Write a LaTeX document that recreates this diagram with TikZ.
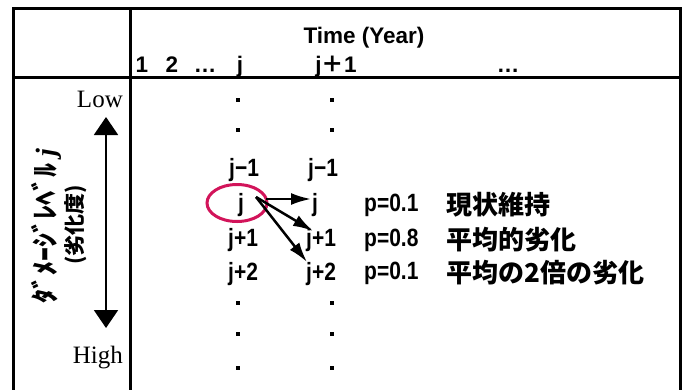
\documentclass[tikz,border=0pt]{standalone}
\usepackage{fontspec}
\setmainfont{Liberation Sans}
\newfontfamily\cond[FakeStretch=0.84]{Liberation Sans}
\newfontfamily\jp{Noto Sans CJK JP}
\newfontfamily\tms{Liberation Serif}
\usetikzlibrary{arrows.meta,shapes.geometric}
\definecolor{circred}{RGB}{210,20,90}
\begin{document}
\begin{tikzpicture}[x=1pt,y=-1pt,
  grid/.style={line width=3pt},
  hd/.style={font=\bfseries\fontsize{22.5}{24}\selectfont, inner sep=0pt, anchor=base},
  lbl/.style={font=\cond\bfseries\fontsize{25}{26}\selectfont, inner sep=0pt, anchor=base west},
  jtxt/.style={font=\jp\bfseries\fontsize{26}{28}\selectfont, inner sep=0pt, anchor=base west},
  side/.style={font=\tms\fontsize{25}{30}\selectfont, inner sep=0pt, anchor=base east},
  trans/.style={line width=2.5pt, -{Latex[length=20pt,width=12pt]}},
  dblarrow/.style={line width=2pt, {Triangle[length=18pt,width=24pt]}-{Triangle[length=18pt,width=24pt]}}
]
\useasboundingbox (0,0) rectangle (687,389);
% table
\draw[grid] (13,392) -- (13,8) -- (680,8) -- (680,392);
\draw[grid] (130,8) -- (130,392);
\draw[grid] (13,77) -- (680,77);
% header
\node[hd] (time) at (364,43) {Time (Year)};
\node[hd] (h1) at (142,72) {1};
\node[hd] (h2) at (172,72) {2};
\node[hd] (h3) at (205,72) {…};
\node[hd] (h4) at (240,72) {j};
\node[hd] (h5) at (336,72) {j{\jp\bfseries ＋}1};
\node[hd] (h6) at (508,72) {…};
% side scale
\node[side] (low) at (123,107) {Low};
\node[side] (high) at (123,363) {High};
\coordinate (stop) at (106,117);
\coordinate (sbot) at (106,328);
\draw[dblarrow] (stop) -- (sbot);
\node[font=\jp\bfseries\fontsize{28}{30}\selectfont, inner sep=0pt, rotate=90] (dmg) at (46,226) {ﾀﾞﾒｰｼﾞﾚﾍﾞﾙ {\tms\itshape j}};
\node[font=\jp\bfseries\fontsize{21}{24}\selectfont, inner sep=0pt, rotate=90] (rek) at (76,225) {(劣化度)};
% dots
\foreach \x in {238,332}
  \foreach \y in {100,130,303,334,368}
    \fill (\x-2,\y-2) rectangle +(4,4);
% column j
\node[lbl] (a1) at (229,176) {j−1};
\node[lbl, anchor=base] (a2) at (241,211) {j};
\node[lbl] (a3) at (228,246) {j+1};
\node[lbl] (a4) at (228,280) {j+2};
% column j+1
\node[lbl] (b1) at (308,176) {j−1};
\node[lbl] (b2) at (312,211) {j};
\node[lbl] (b3) at (306,246) {j+1};
\node[lbl] (b4) at (306,280) {j+2};
% probabilities
\node[lbl] (p1) at (364,211) {p=0.1};
\node[lbl] (p2) at (364,246) {p=0.8};
\node[lbl] (p3) at (364,279) {p=0.1};
\node[jtxt] (q1) at (446,214) {現状維持};
\node[jtxt] (q2) at (446,249) {平均的劣化};
\node[jtxt] (q3) at (446,282) {平均の2倍の劣化};
% ring
\node[draw=circred, line width=3pt, ellipse, minimum width=60pt, minimum height=37pt, inner sep=0pt] (ring) at (237,203) {};
% arrows
\coordinate (s0) at (266,199);
\coordinate (s1) at (256,197);
\coordinate (t1) at (311,199);
\coordinate (t2) at (313,231);
\coordinate (t3) at (307,262);
\draw[trans] (s0) -- (t1);
\draw[trans] (s1) -- (t2);
\draw[trans] (s1) -- (t3);
\end{tikzpicture}
\end{document}
